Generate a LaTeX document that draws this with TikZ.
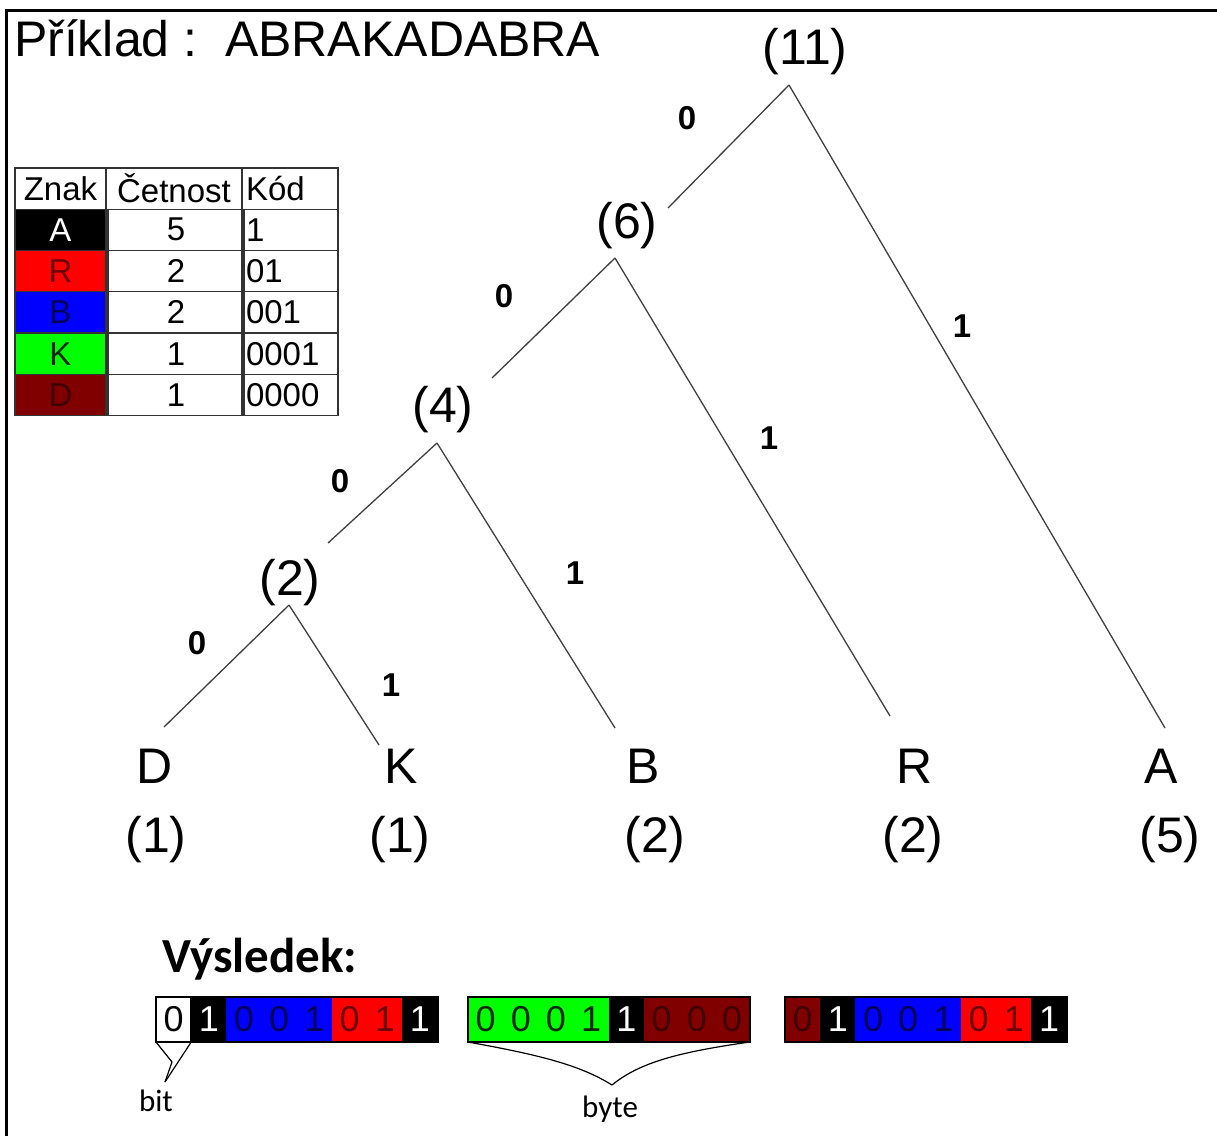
\documentclass[tikz,border=0pt]{standalone}
\usepackage{fontspec}
\setmainfont{Liberation Sans}
\newfontfamily\calib{Carlito}
\begin{document}
\begin{tikzpicture}[x=1pt,y=-1pt,
  every node/.style={inner sep=0pt,outer sep=0pt},
  treetext/.style={font=\fontsize{50}{50}\selectfont},
  bitlabel/.style={font=\fontsize{33}{33}\selectfont\bfseries},
  branch/.style={draw=black!75,line width=1.3pt},
  cell/.style={draw=black!80,line width=1.3pt,minimum height=41.3pt,font=\fontsize{33}{33}\selectfont},
  bitcell/.style={minimum width=35.2pt,minimum height=45pt,font=\fontsize{36}{36}\selectfont},
  callout/.style={draw=black,line width=1.2pt}]
\definecolor{dred}{HTML}{800000}
\definecolor{pureg}{HTML}{00FF00}
\definecolor{tR}{HTML}{6A0000}
\definecolor{tB}{HTML}{000058}
\definecolor{tK}{HTML}{002800}
\definecolor{tD}{HTML}{400000}
\useasboundingbox (0,0) rectangle (1217,1136);
\fill[white] (0,0) rectangle (1217,1136);
% frame edges
\draw[line width=3pt] (6,1136) -- (6,10) -- (1217,10);

% title
\node[anchor=base west,font=\fontsize{50}{50}\selectfont] (title) at (14,56) {Příklad :\ \ ABRAKADABRA};

% frequency table
\node[cell,minimum width=91pt]  (h1) at (60.5,188.5) {Znak};
\node[cell,minimum width=136pt] (h2) at (174,188.5) {Četnost};
\node[cell,minimum width=96pt,text width=88pt,align=left] (h3) at (290,188.5) {Kód};
\foreach \r/\ch/\bg/\fg/\n/\code [count=\i] in
   {A/A/black/white/5/1, R/R/red/tR/2/01, B/B/blue/tB/2/001,
    K/K/pureg/tK/1/0001, D/D/dred/tD/1/0000}{
  \pgfmathsetmacro\yy{188.5+41.3*\i}
  \node[cell,minimum width=91pt,fill=\bg,text=\fg] (c1\r) at (60.5,\yy) {\ch};
  \node[cell,minimum width=136pt] (c2\r) at (176,\yy) {\n};
  \node[cell,minimum width=96pt,text width=88pt,align=left] (c3\r) at (290,\yy) {\code};
}

% tree nodes
\node[treetext] (n11) at (805,52) {(11)};
\node[treetext] (n6)  at (627,226) {(6)};
\node[treetext] (n4)  at (443,410) {(4)};
\node[treetext] (n2)  at (290,583) {(2)};
\node[treetext] (lD) at (155,766) {D};
\node[treetext] (lK) at (401,766) {K};
\node[treetext] (lB) at (643,766) {B};
\node[treetext] (lR) at (915,766) {R};
\node[treetext] (lA) at (1161,766) {A};
\node[treetext] (fD) at (156,840) {(1)};
\node[treetext] (fK) at (400,840) {(1)};
\node[treetext] (fB) at (655,840) {(2)};
\node[treetext] (fR) at (913,840) {(2)};
\node[treetext] (fA) at (1170,840) {(5)};

% branch end points
\coordinate (a11) at (789,85);
\coordinate (a6)  at (615,258);
\coordinate (a4)  at (437,443);
\coordinate (a2)  at (289,605);
\coordinate (t6)  at (668,208);
\coordinate (t4)  at (492,378);
\coordinate (t2)  at (328,543);
\coordinate (tD)  at (164,727);
\coordinate (tK)  at (379,745);
\coordinate (tB)  at (615,728);
\coordinate (tR)  at (890,716);
\coordinate (tA)  at (1165,728);

\draw[branch] (a11) -- (t6);
\draw[branch] (a11) -- (tA);
\draw[branch] (a6) -- (t4);
\draw[branch] (a6) -- (tR);
\draw[branch] (a4) -- (t2);
\draw[branch] (a4) -- (tB);
\draw[branch] (a2) -- (tD);
\draw[branch] (a2) -- (tK);

% branch labels
\node[bitlabel] (b11l) at (687,118) {0};
\node[bitlabel] (b11r) at (962,326) {1};
\node[bitlabel] (b6l)  at (504,296) {0};
\node[bitlabel] (b6r)  at (769,438) {1};
\node[bitlabel] (b4l)  at (340,481) {0};
\node[bitlabel] (b4r)  at (575,573) {1};
\node[bitlabel] (b2l)  at (197,643) {0};
\node[bitlabel] (b2r)  at (391,685) {1};

% encoded result
\node[anchor=base west,font=\fontsize{49}{49}\calib\bfseries] (res) at (162,972) {Výsledek:};

\foreach \s/\xs/\cells in {
   1/156/{white/black/0,black/white/1,blue/tB/0,blue/tB/0,blue/tB/1,red/tR/0,red/tR/1,black/white/1},
   2/468/{pureg/tK/0,pureg/tK/0,pureg/tK/0,pureg/tK/1,black/white/1,dred/tD/0,dred/tD/0,dred/tD/0},
   3/785/{dred/tD/0,black/white/1,blue/tB/0,blue/tB/0,blue/tB/1,red/tR/0,red/tR/1,black/white/1}}{
  \foreach \bg/\fg/\d [count=\k] in \cells {
    \node[bitcell,fill=\bg,text=\fg] (s\s-\k) at ({\xs+35.2*(\k-0.5)},1019.5) {\d};
  }
  \draw[line width=2pt] (s\s-1.north west) rectangle (s\s-8.south east);
}
\draw[line width=2pt] (s1-1.north east) -- (s1-1.south east);

% bit callout
\coordinate (bitTip) at (165,1082);
\coordinate (bitMid) at (172,1062);
\draw[callout] (s1-1.south west) -- (bitMid) -- (bitTip);
\draw[callout] (s1-1.south east) -- (bitTip);
\node[font=\fontsize{31}{31}\calib] (bit) at (156,1101) {bit};

% byte brace
\coordinate (byteTip) at (612,1085);
\draw[callout] (s2-1.south west) .. controls (540,1055) and (580,1065) .. (byteTip);
\draw[callout] (s2-8.south east) .. controls (680,1052) and (640,1062) .. (byteTip);
\node[font=\fontsize{31}{31}\calib] (byte) at (610,1109) {byte};
\end{tikzpicture}
\end{document}
